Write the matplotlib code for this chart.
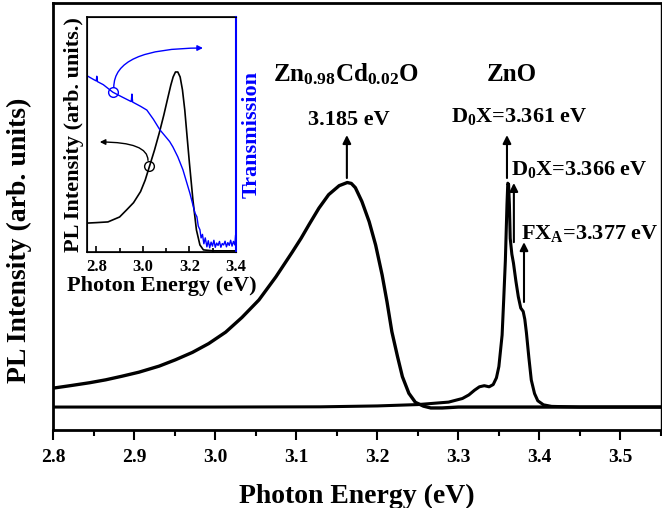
import numpy as np
import matplotlib
matplotlib.use('Agg')
import matplotlib.pyplot as plt

# fonts: bold serif everywhere, also inside mathtext
plt.rcParams['font.family'] = 'Liberation Serif'
plt.rcParams['font.weight'] = 'bold'
plt.rcParams['mathtext.fontset'] = 'custom'
plt.rcParams['mathtext.rm'] = 'Liberation Serif:bold'
plt.rcParams['mathtext.it'] = 'Liberation Serif:bold'
plt.rcParams['mathtext.bf'] = 'Liberation Serif:bold'

# Main PL spectra
zncdo_E = [2.80, 2.823, 2.845, 2.865, 2.885, 2.906, 2.931, 2.951, 2.972, 2.992, 3.013, 3.033,
           3.054, 3.075, 3.095, 3.106, 3.116, 3.128, 3.140, 3.153, 3.163, 3.168, 3.173, 3.181,
           3.190, 3.198, 3.206, 3.212, 3.218, 3.225, 3.231, 3.239, 3.247, 3.257, 3.266, 3.28,
           3.30, 3.55]
zncdo_I = [0.084, 0.096, 0.108, 0.121, 0.137, 0.155, 0.182, 0.210, 0.243, 0.282, 0.333, 0.398,
           0.476, 0.579, 0.688, 0.750, 0.812, 0.884, 0.944, 0.984, 0.998, 0.994, 0.975, 0.914,
           0.824, 0.720, 0.587, 0.468, 0.335, 0.224, 0.135, 0.061, 0.021, 0.004, -0.004, -0.004,
           0.0, 0.0]

zno_E = [2.80, 3.00, 3.13, 3.20, 3.25, 3.288, 3.305, 3.313, 3.32, 3.326, 3.332, 3.338,
         3.343, 3.347, 3.35, 3.352, 3.354, 3.356, 3.358, 3.36, 3.361, 3.362, 3.363, 3.364,
         3.366, 3.368, 3.371, 3.374, 3.377, 3.380, 3.382, 3.384, 3.387, 3.39, 3.394, 3.398,
         3.405, 3.415, 3.45, 3.55]
zno_I = [0.0, 0.0, 0.001, 0.005, 0.011, 0.022, 0.038, 0.054, 0.075, 0.090, 0.095, 0.090,
         0.100, 0.130, 0.180, 0.250, 0.320, 0.480, 0.650, 0.900, 0.995, 0.990, 0.900, 0.750,
         0.680, 0.640, 0.560, 0.490, 0.440, 0.425, 0.390, 0.330, 0.220, 0.120, 0.060, 0.028,
         0.010, 0.003, 0.0, 0.0]

# Inset: PL and transmission of the alloy film
pl_E = [2.76, 2.80, 2.85, 2.90, 2.93, 2.96, 2.99, 3.01, 3.03, 3.05, 3.07, 3.09, 3.105, 3.12,
        3.13, 3.14, 3.15, 3.16, 3.17, 3.18, 3.19, 3.20, 3.215, 3.23, 3.245, 3.26, 3.30, 3.40]
pl_I = [0.123, 0.125, 0.128, 0.149, 0.179, 0.210, 0.257, 0.306, 0.370, 0.434, 0.505, 0.583,
        0.647, 0.710, 0.745, 0.766, 0.766, 0.745, 0.690, 0.604, 0.490, 0.378, 0.221, 0.094,
        0.030, 0.009, 0.005, 0.005]

tr_E = [2.76, 2.79, 2.80, 2.802, 2.805, 2.83, 2.871, 2.91, 2.95, 2.953, 2.956, 2.99, 3.017,
        3.045, 3.073, 3.10, 3.115, 3.129, 3.15, 3.172, 3.19, 3.202, 3.215, 3.224, 3.232,
        3.238, 3.245, 3.25, 3.256, 3.262, 3.268, 3.275, 3.281, 3.287, 3.293, 3.299, 3.305,
        3.311, 3.317, 3.323, 3.329, 3.335, 3.341, 3.347, 3.353, 3.359, 3.365, 3.371, 3.377,
        3.383, 3.389, 3.395, 3.398]
tr_T = [0.750, 0.733, 0.728, 0.748, 0.725, 0.712, 0.680, 0.660, 0.640, 0.672, 0.638, 0.620, 0.604,
        0.565, 0.520, 0.488, 0.470, 0.447, 0.405, 0.350, 0.290, 0.250, 0.200, 0.165, 0.150,
        0.110, 0.095, 0.060, 0.075, 0.035, 0.060, 0.022, 0.048, 0.018, 0.042, 0.025, 0.050,
        0.020, 0.038, 0.028, 0.045, 0.020, 0.036, 0.030, 0.046, 0.022, 0.040, 0.028, 0.050,
        0.025, 0.045, 0.030, 0.070]

fig = plt.figure(figsize=(6.62, 5.08), dpi=100)
ax = fig.add_axes([53/662, (508-430)/508, (661-53)/662, (430-3)/508])

ax.plot(zno_E, zno_I, color='black', lw=2.2)
ax.plot(zncdo_E, zncdo_I, color='black', lw=2.4)

ax.set_xlim(2.8, 3.55)
ax.set_ylim(-0.102, 1.796)
ax.set_xticks([2.8, 2.9, 3.0, 3.1, 3.2, 3.3, 3.4, 3.5])
ax.set_xticks([2.85, 2.95, 3.05, 3.15, 3.25, 3.35, 3.45, 3.55], minor=True)
ax.set_yticks([])
ax.tick_params(axis='x', which='major', direction='out', length=7, width=1.5,
               labelsize=14, pad=7)
ax.tick_params(axis='x', which='minor', direction='out', length=4, width=1.5)
for s in ['left', 'bottom', 'top']:
    ax.spines[s].set_linewidth(2.0)
ax.spines['right'].set_linewidth(1.0)

ax.set_xlabel('Photon Energy (eV)', fontsize=20, fontweight='bold')
ax.xaxis.set_label_coords(0.5, -0.125)
ax.set_ylabel('PL Intensity (arb. units)', fontsize=20, fontweight='bold')
ax.yaxis.set_label_coords(-0.035, 0.445)

# labels and arrows for the peaks
ax.text(3.161, 1.449, r'Zn$_{0.98}$Cd$_{0.02}$O', fontsize=18, ha='center', va='baseline')
ax.text(3.165, 1.253, '3.185 eV', fontsize=16, ha='center', va='baseline')
ax.text(3.366, 1.449, 'ZnO', fontsize=18, ha='center', va='baseline')
ax.text(3.375, 1.267, r'D$_0$X=3.361 eV', fontsize=16, ha='center', va='baseline')
ax.text(3.3647, 1.031, r'D$_0$X=3.366 eV', fontsize=16, ha='left', va='baseline')
ax.text(3.377, 0.747, r'FX$_A$=3.377 eV', fontsize=16, ha='left', va='baseline')

arrows = [(3.1625, 1.018, 1.209), (3.36, 1.018, 1.209),
          (3.3685, 0.733, 0.996), (3.381, 0.467, 0.733)]
for x, y0, y1 in arrows:
    ax.annotate('', xy=(x, y1), xytext=(x, y0),
                arrowprops=dict(arrowstyle='-|>', color='black', lw=1.5,
                                mutation_scale=12, shrinkA=0, shrinkB=0))

# Inset
axi = fig.add_axes([87/662, (508-252)/508, (236-87)/662, (252-17)/508])
axi.plot(pl_E, pl_I, color='black', lw=1.2)
axi.set_xlim(2.76, 3.4)
axi.set_ylim(0, 1)
axi.set_yticks([])
axi.set_xticks([2.8, 3.0, 3.2, 3.4])
axi.set_xticks([2.9, 3.1, 3.3], minor=True)
axi.tick_params(axis='x', which='major', direction='in', length=4, width=1.2,
                labelsize=12, pad=5)
axi.tick_params(axis='x', which='minor', direction='in', length=3, width=1.2)
axi.set_xlabel('Photon Energy (eV)', fontsize=16, fontweight='bold', labelpad=1)
axi.set_ylabel('PL Intensity (arb. units.)', fontsize=16, fontweight='bold', labelpad=2)
for s in axi.spines.values():
    s.set_linewidth(1.2)

axt = axi.twinx()
axt.plot(tr_E, tr_T, color='blue', lw=1.0)
axt.set_ylim(0, 1)
axt.set_yticks([])
axt.spines['right'].set_color('blue')
axt.spines['right'].set_linewidth(1.5)
axt.set_ylabel('Transmission', fontsize=16, fontweight='bold', color='blue', labelpad=4)

# circles and arrows pointing to the matching axis
axi.plot([3.026], [0.366], marker='o', ms=7, mfc='none', mec='black', mew=1.0)
axi.annotate('', xy=(2.815, 0.468), xytext=(3.022, 0.39),
             arrowprops=dict(arrowstyle='-|>', color='black', lw=1.0, mutation_scale=8,
                             connectionstyle='angle3,angleA=90,angleB=0',
                             shrinkA=0, shrinkB=0))
axt.plot([2.871], [0.68], marker='o', ms=7, mfc='none', mec='blue', mew=1.0)
axt.annotate('', xy=(3.258, 0.868), xytext=(2.875, 0.70),
             arrowprops=dict(arrowstyle='-|>', color='blue', lw=1.0, mutation_scale=8,
                             connectionstyle='angle3,angleA=90,angleB=0',
                             shrinkA=0, shrinkB=0))

plt.savefig('out.png', dpi=100)
